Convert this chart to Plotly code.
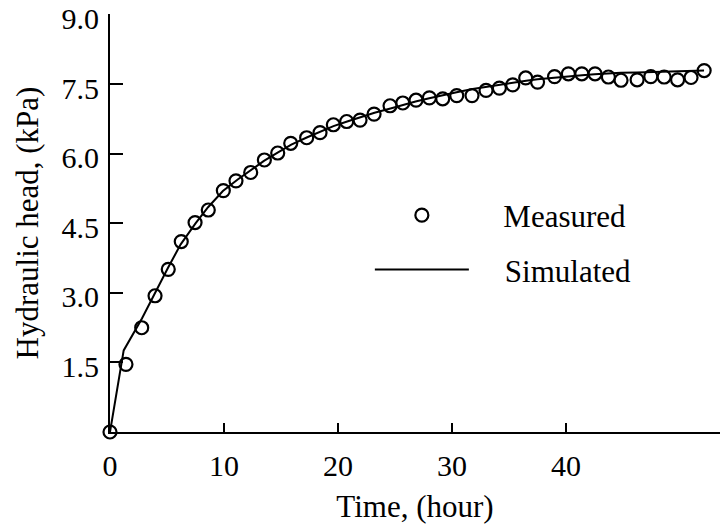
import plotly.graph_objects as go

# Measured data (time in hours, hydraulic head in kPa)
measured_time = [0.0, 1.40, 2.78, 3.95, 5.11, 6.25, 7.46, 8.62, 9.94, 11.05,
                 12.34, 13.54, 14.71, 15.85, 17.25, 18.42, 19.59, 20.76, 21.93, 23.16,
                 24.56, 25.68, 26.84, 28.01, 29.18, 30.41, 31.75, 32.98, 34.15, 35.32,
                 36.46, 37.50, 38.99, 40.20, 41.38, 42.54, 43.71, 44.82, 46.23, 47.43,
                 48.60, 49.78, 50.96, 52.11]
measured_head = [0.0, 1.46, 2.25, 2.94, 3.51, 4.11, 4.52, 4.79, 5.21, 5.42,
                 5.60, 5.87, 6.02, 6.23, 6.35, 6.46, 6.63, 6.70, 6.73, 6.86,
                 7.04, 7.10, 7.16, 7.21, 7.19, 7.26, 7.26, 7.37, 7.42, 7.49,
                 7.64, 7.55, 7.67, 7.73, 7.73, 7.73, 7.66, 7.59, 7.60, 7.67,
                 7.66, 7.60, 7.65, 7.80]

# Simulated data
simulated_time = [0.0, 1.2, 2.8, 4.0, 5.1, 6.2, 7.5, 8.6, 9.9, 11.2,
                  12.3, 13.5, 14.7, 15.9, 17.3, 18.4, 19.6, 20.8, 21.9, 23.2,
                  24.6, 25.7, 26.8, 28.0, 29.2, 30.4, 31.8, 33.0, 34.2, 35.3,
                  36.5, 37.5, 39.0, 40.2, 41.4, 42.5, 43.7, 44.8, 46.2, 47.4,
                  48.6, 49.8, 51.0, 52.1]
simulated_head = [0.0, 1.76, 2.45, 3.03, 3.55, 4.05, 4.50, 4.85, 5.20, 5.45,
                  5.65, 5.85, 6.03, 6.20, 6.36, 6.48, 6.60, 6.70, 6.79, 6.89,
                  6.98, 7.06, 7.13, 7.20, 7.27, 7.33, 7.40, 7.45, 7.50, 7.54,
                  7.58, 7.61, 7.65, 7.68, 7.70, 7.72, 7.74, 7.75, 7.76, 7.77,
                  7.78, 7.78, 7.79, 7.80]

x_ticks = [0, 10, 20, 30, 40]
y_ticks = [1.5, 3.0, 4.5, 6.0, 7.5, 9.0]
y_tick_labels = ["1.5", "3.0", "4.5", "6.0", "7.5", "9.0"]

FONT = "Liberation Serif, Times New Roman, serif"

fig = go.Figure()
fig.add_trace(go.Scatter(
    x=simulated_time, y=simulated_head, mode="lines", name="    Simulated",
    line=dict(color="black", width=2), legendgroup="b", legendrank=2,
))
fig.add_trace(go.Scatter(
    x=measured_time, y=measured_head, mode="markers", name="   \u2009Measured",
    marker=dict(symbol="circle-open", size=13, color="black",
                line=dict(color="black", width=2.2)),
    cliponaxis=False, legendgroup="a", legendrank=1,
))

fig.update_layout(
    width=720, height=529,
    margin=dict(l=110, r=0, t=14, b=97),
    paper_bgcolor="white", plot_bgcolor="white",
    font=dict(family=FONT, size=30, color="black"),
    showlegend=True,
    legend=dict(
        x=0.426, y=0.5825, xanchor="left", yanchor="top",
        bgcolor="rgba(0,0,0,0)", borderwidth=0,
        font=dict(family=FONT, size=31, color="black"),
        itemwidth=94, tracegroupgap=11, traceorder="grouped",
    ),
    xaxis=dict(
        range=[0, 53.5], tickvals=x_ticks, ticktext=[str(v) for v in x_ticks],
        showline=True, linecolor="black", linewidth=2,
        ticks="inside", ticklen=9, tickwidth=2, tickcolor="black",
        showgrid=False, zeroline=False, automargin=False,
        ticklabelstandoff=6, ticklabeloverflow="allow",
        title=dict(text="Time, (hour)", font=dict(family=FONT, size=31), standoff=14),
    ),
    yaxis=dict(
        range=[0, 9.02], tickvals=y_ticks, ticktext=y_tick_labels,
        showline=True, linecolor="black", linewidth=2,
        ticks="inside", ticklen=13, tickwidth=2, tickcolor="black",
        showgrid=False, zeroline=False, automargin=False,
        ticklabelstandoff=3, ticklabeloverflow="allow", ticklabelshift=4,
        minor=dict(tickvals=[9.0], ticks="inside", ticklen=13, tickwidth=2,
                   tickcolor="black", showgrid=False),
        title=dict(text="Hydraulic head, (kPa)", font=dict(family=FONT, size=31), standoff=14),
    ),
)

fig.write_html("out.html", config={"displayModeBar": False},
               post_script="document.body.style.margin='0';")
